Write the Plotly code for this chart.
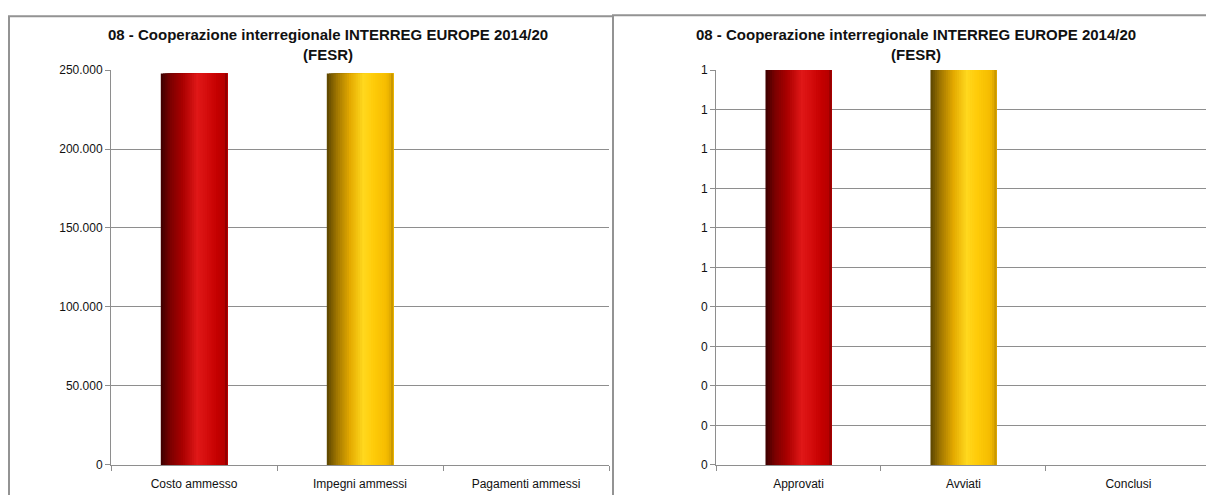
import plotly.graph_objects as go

# ---- data ----
left_categories = ["Costo ammesso", "Impegni ammessi", "Pagamenti ammessi"]
left_values = [247900, 247900, 0]
left_tick_values = [0, 50000, 100000, 150000, 200000, 250000]

right_categories = ["Approvati", "Avviati", "Conclusi"]
right_values = [1, 1, 0]
right_tick_values = [0, 0.1, 0.2, 0.3, 0.4, 0.5, 0.6, 0.7, 0.8, 0.9, 1.0]
right_tick_labels = ["0", "0", "0", "0", "0", "1", "1", "1", "1", "1", "1"]

title_line1 = "08 - Cooperazione interregionale INTERREG EUROPE 2014/20"
title_line2 = "(FESR)"

# ---- styling ----
W, H = 1206, 495
GRID = "#8e8e8e"
FONT = "Liberation Sans"

red_stops = [(0.0, (60, 0, 0)), (0.15, (125, 0, 0)), (0.33, (170, 0, 0)),
             (0.55, (224, 24, 24)), (0.68, (214, 14, 14)), (0.85, (196, 0, 0)),
             (0.95, (184, 0, 0)), (1.0, (130, 0, 0))]
gold_stops = [(0.0, (90, 68, 0)), (0.15, (160, 118, 0)), (0.35, (228, 170, 0)),
              (0.55, (255, 216, 30)), (0.7, (255, 204, 10)), (0.9, (245, 188, 0)),
              (0.97, (220, 165, 0)), (1.0, (180, 135, 0))]


def interp(stops, t):
    for (t0, c0), (t1, c1) in zip(stops[:-1], stops[1:]):
        if t0 <= t <= t1:
            f = 0 if t1 == t0 else (t - t0) / (t1 - t0)
            return "rgb(%d,%d,%d)" % tuple(round(a + (b - a) * f) for a, b in zip(c0, c1))
    return "rgb(%d,%d,%d)" % stops[-1][1]


def py(y_px):
    """pixel-from-top -> paper coordinate (with measured render correction)"""
    y_in = (y_px - 5.6) / 0.977
    return (H - y_in) / H


N = 30
BAR_W = 0.4

fig = go.Figure()


def add_gradient_bars(cats, vals, xa, ya):
    palettes = [red_stops, gold_stops, gold_stops]
    step = BAR_W / N
    for i in range(N):
        t = (i + 0.5) / N
        colors = [interp(palettes[j], t) for j in range(len(cats))]
        fig.add_trace(go.Bar(
            x=cats, y=vals, xaxis=xa, yaxis=ya,
            width=BAR_W - i * step, offset=-BAR_W / 2 + i * step,
            marker=dict(color=colors, line=dict(width=0)),
            showlegend=False, hoverinfo="x+y",
        ))


add_gradient_bars(left_categories, left_values, "x", "y")
add_gradient_bars(right_categories, right_values, "x2", "y2")

y_dom = [py(466), py(69)]

axis_common = dict(showline=True, linecolor=GRID, linewidth=1,
                   ticks="outside", tickcolor=GRID, ticklen=5, tickwidth=1,
                   tickfont=dict(family=FONT, size=12, color="#111111"))

fig.update_layout(
    width=W, height=H, margin=dict(l=0, r=0, t=0, b=0),
    paper_bgcolor="white", plot_bgcolor="white",
    barmode="overlay", separators=",.",
    xaxis=dict(domain=[111 / W, 609 / W], type="category", range=[-0.5, 2.5],
               tickson="boundaries", showgrid=False, ticklabelstandoff=8,
               **axis_common),
    yaxis=dict(domain=y_dom, range=[0, 250000], tickvals=left_tick_values,
               tickformat=",.0f", showgrid=True, gridcolor=GRID, gridwidth=1,
               zeroline=False, **axis_common),
    xaxis2=dict(domain=[716 / W, 1.0], type="category", range=[-0.5, 2.47],
                tickson="boundaries", showgrid=False, anchor="y2",
                ticklabelstandoff=8, **axis_common),
    yaxis2=dict(domain=y_dom, range=[0, 1], tickvals=right_tick_values,
                ticktext=right_tick_labels, anchor="x2",
                showgrid=True, gridcolor=GRID, gridwidth=1, zeroline=False,
                **axis_common),
)

# panel frames
frame = dict(color="#939393", width=2)
fig.add_shape(type="rect", xref="paper", yref="paper", x0=9 / W, x1=613 / W,
              y0=-0.05, y1=py(15), line=frame, layer="below")
fig.add_shape(type="rect", xref="paper", yref="paper", x0=613 / W, x1=1.05,
              y0=-0.05, y1=py(14), line=frame, layer="below")

# titles
for cx in (328, 916):
    fig.add_annotation(text="<b>%s</b>" % title_line1, xref="paper", yref="paper",
                       x=cx / W, y=py(33), xanchor="center", yanchor="middle",
                       showarrow=False,
                       font=dict(family=FONT, size=15, color="#111111"))
    fig.add_annotation(text="<b>%s</b>" % title_line2, xref="paper", yref="paper",
                       x=cx / W, y=py(53), xanchor="center", yanchor="middle",
                       showarrow=False,
                       font=dict(family=FONT, size=15, color="#111111"))

fig.write_html("out.html")
